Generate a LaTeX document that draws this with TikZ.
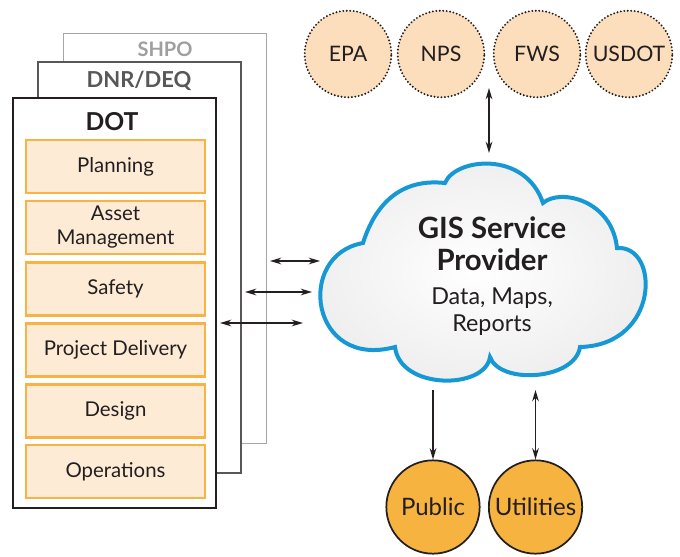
\documentclass[tikz,border=0pt]{standalone}
\usepackage{fontspec}
\setmainfont{Lato}
\usetikzlibrary{arrows.meta}
\definecolor{ink}{RGB}{35,31,32}
\definecolor{boxfill}{RGB}{253,235,214}
\definecolor{boxline}{RGB}{249,179,69}
\definecolor{peach}{RGB}{252,221,188}
\definecolor{gold}{RGB}{247,179,64}
\definecolor{cloudblue}{RGB}{22,152,212}
\tikzset{
  deptbox/.style={draw=boxline, fill=boxfill, line width=1.8pt, minimum width=134pt, minimum height=40pt, inner sep=0pt, align=center, text=ink, font=\fontsize{15.3}{18}\selectfont},
  agency/.style={circle, draw=ink, fill=peach, line width=1.6pt, dash pattern=on 0pt off 2.6pt, line cap=round, minimum size=65pt, inner sep=0pt, text=ink, font=\fontsize{16}{18}\selectfont},
  user/.style={circle, draw=ink, fill=gold, line width=1.3pt, minimum size=70pt, inner sep=0pt, text=ink, font=\fontsize{18}{20}\selectfont},
  tip/.tip={Stealth[length=8.5pt,width=5pt]},
  link/.style={ink, line width=1.05pt, tip-tip},
  onelink/.style={ink, line width=1.05pt, -tip},
}
\begin{document}
\begin{tikzpicture}[x=0.75pt,y=-0.75pt]
\useasboundingbox (0,0) rectangle (680,556);
% stacked agency sheets
\draw[fill=white, draw=gray!70, line width=0.7pt] (63,33) rectangle (266,443);
\node[text=gray!75, font=\bfseries\fontsize{15}{17}\selectfont] (shpo) at (165,49) {SHPO};
\draw[fill=white, draw=ink!75, line width=1pt] (38,62) rectangle (241,473);
\node[text=ink!75, font=\bfseries\fontsize{16.5}{19}\selectfont] (dnr) at (139,81) {DNR/DEQ};
\draw[fill=white, draw=ink, line width=1.5pt] (13,98) rectangle (216,508);
\node[text=ink, font=\bfseries\fontsize{18.5}{20}\selectfont] (dot) at (112,122) {DOT};
% departments
\node[deptbox] (plan) at (115.5,166.5) {Planning};
\node[deptbox] (asset) at (115.5,227.5) {Asset\\Management};
\node[deptbox] (safe) at (115.5,289) {Safety};
\node[deptbox] (proj) at (115.5,350) {Project Delivery};
\node[deptbox] (des) at (115.5,411) {Design};
\node[deptbox] (ops) at (115.5,471.5) {Operations};
% cloud
\draw[draw=cloudblue, line width=3pt, line join=miter, inner color=white, outer color=gray!14]
  (363,243) .. controls (375,205) and (400,178) .. (445,183)
  .. controls (455,158) and (525,150) .. (543,203)
  .. controls (560,188) and (612,200) .. (617,248)
  .. controls (660,245) and (660,345) .. (580,347)
  .. controls (575,380) and (500,385) .. (490,357)
  .. controls (485,390) and (400,390) .. (395,347)
  .. controls (310,370) and (295,255) .. (363,243) -- cycle;
\node[text=ink, font=\bfseries\fontsize{22}{24}\selectfont, align=center] (gist) at (492,244) {GIS Service\\Provider};
\node[text=ink, font=\fontsize{17.5}{20}\selectfont, align=center] (gisd) at (492,311.5) {Data, Maps,\\Reports};
% federal agencies
\node[agency] (epa) at (348,54) {EPA};
\node[agency] (nps) at (441,54) {NPS};
\node[agency] (fws) at (537,54) {FWS};
\node[agency] (usdot) at (629,54) {USDOT};
% public and utilities
\node[user] (pub) at (433,507) {Public};
\node[user] (util) at (535.5,507) {Utilities};
% connectors
\coordinate (t1) at (489,88);
\coordinate (t2) at (489,153);
\draw[link] (t1) -- (t2);
\coordinate (a1) at (270,261); \coordinate (b1) at (320,261);
\coordinate (a2) at (245,292); \coordinate (b2) at (312,292);
\coordinate (a3) at (220,323); \coordinate (b3) at (303,323);
\draw[link] (a1) -- (b1);
\draw[link] (a2) -- (b2);
\draw[link] (a3) -- (b3);
\coordinate (p0) at (433,390);
\coordinate (u0) at (535.5,390);
\draw[onelink] (p0) -- (pub.north);
\draw[link] (u0) -- (util.north);
\end{tikzpicture}
\end{document}
